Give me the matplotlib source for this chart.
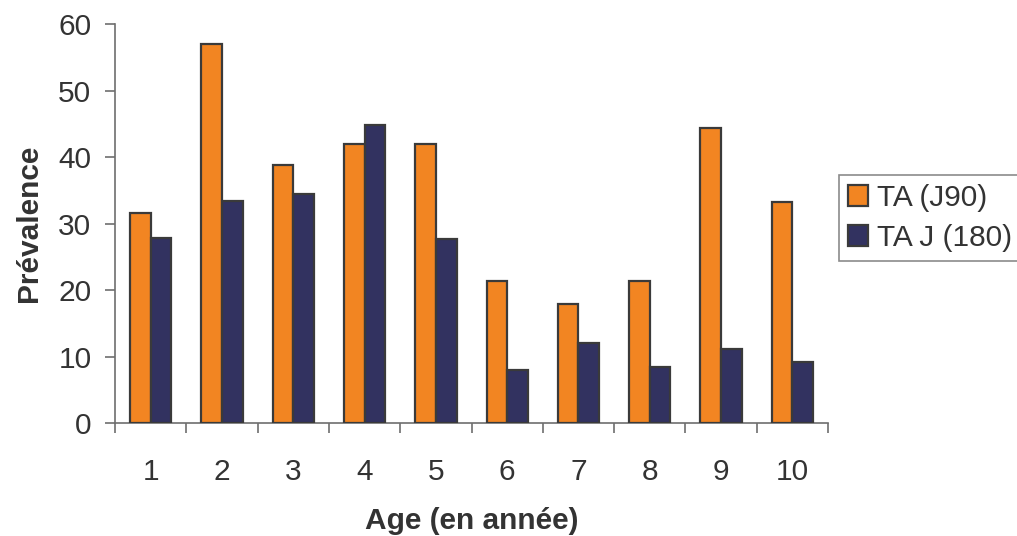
import matplotlib
matplotlib.use("Agg")
import matplotlib.pyplot as plt
import numpy as np

plt.rcParams['font.family'] = ['Liberation Sans', 'DejaVu Sans']

ages = ["1", "2", "3", "4", "5", "6", "7", "8", "9", "10"]
ta_j90 = [31.6, 57.1, 38.8, 42.0, 42.0, 21.3, 17.9, 21.3, 44.4, 33.3]
ta_j180 = [27.8, 33.4, 34.5, 44.8, 27.7, 8.0, 12.0, 8.4, 11.2, 9.2]
series_labels = ["TA (J90)", "TA J (180)"]
yticks = [0, 10, 20, 30, 40, 50, 60]

orange = "#F28522"
navy = "#323260"
edge = "#3a3a3a"
axis_col = "#6e6e6e"
text_col = "#333333"
fs = 21.5

fig = plt.figure(figsize=(10.17, 5.36), dpi=100)
ax = fig.add_axes([0.1131, 0.2108, 0.7011, 0.7439])

x = np.arange(len(ages))
w = 0.29
ax.bar(x - w / 2, ta_j90, width=w, color=orange, edgecolor=edge, linewidth=1.6,
       label=series_labels[0], zorder=3)
ax.bar(x + w / 2, ta_j180, width=w, color=navy, edgecolor=edge, linewidth=1.6,
       label=series_labels[1], zorder=3)

ax.set_xlim(-0.5, len(ages) - 0.5)
ax.set_ylim(0, 60)

for s in ("top", "right"):
    ax.spines[s].set_visible(False)
for s in ("left", "bottom"):
    ax.spines[s].set_color(axis_col)
    ax.spines[s].set_linewidth(1.2)

ax.set_yticks(yticks)
ax.set_yticklabels([str(v) for v in yticks])
ax.set_xticks(np.arange(len(ages) + 1) - 0.5)
ax.set_xticklabels([])
ax.set_xticks(x, minor=True)
ax.set_xticklabels(ages, minor=True)
ax.tick_params(axis="y", direction="out", length=7, width=1.2, color=axis_col,
               labelsize=fs, labelcolor=text_col, pad=10)
ax.tick_params(axis="x", which="major", direction="out", length=7, width=1.2,
               color=axis_col)
ax.tick_params(axis="x", which="minor", length=0, labelsize=fs,
               labelcolor=text_col, pad=25)

ax.set_xlabel("Age (en année)", fontsize=fs, fontweight="bold", color=text_col,
              labelpad=15)
ax.set_ylabel("Prévalence", fontsize=fs, fontweight="bold", color=text_col,
              labelpad=11)

leg = fig.legend(loc="upper left", bbox_to_anchor=(839 / 1017, 1 - 175 / 536),
                 bbox_transform=fig.transFigure, frameon=True,
                 fancybox=False, edgecolor=axis_col, fontsize=fs,
                 handlelength=0.68, handleheight=0.68, handletextpad=0.3,
                 borderpad=0.3, labelspacing=0.4, borderaxespad=0.0)
leg.get_frame().set_linewidth(1.2)
for t in leg.get_texts():
    t.set_color(text_col)

fig.savefig("out.png", dpi=100)
